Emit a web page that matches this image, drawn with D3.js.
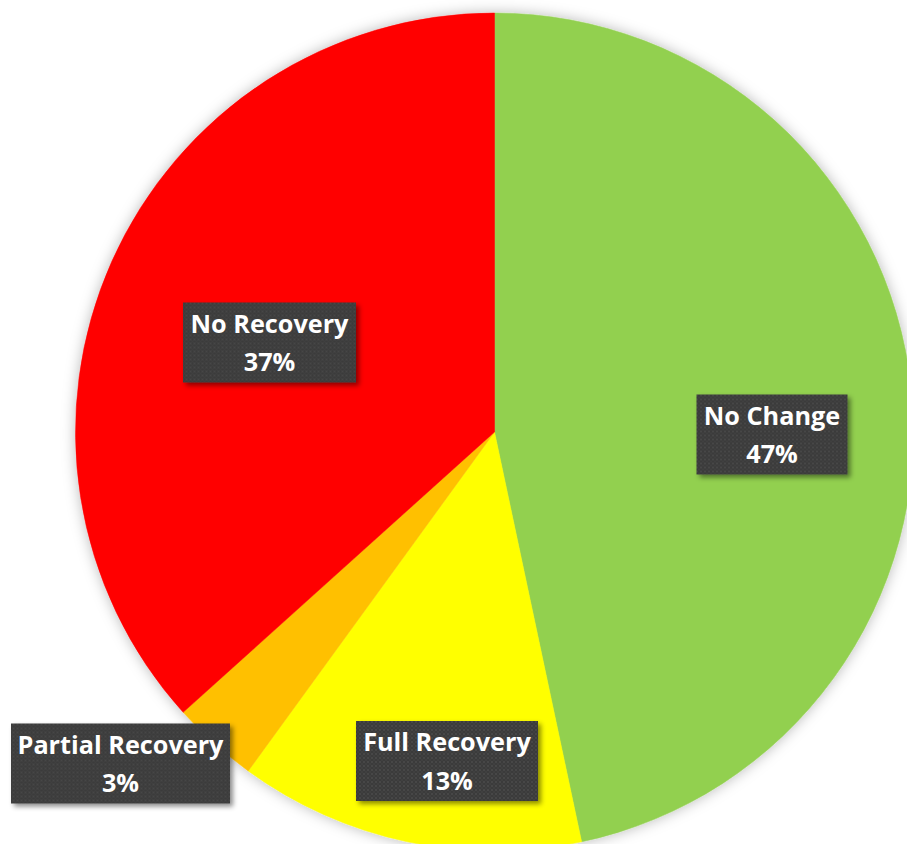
<!DOCTYPE html>
<html>
<head>
<meta charset="utf-8">
<script src="https://cdn.jsdelivr.net/npm/d3@7"></script>
<style>
  html, body { margin: 0; padding: 0; background: #ffffff; }
  svg { display: block; }
</style>
</head>
<body>
<svg id="chart" width="907" height="844"></svg>
<script>
// ---- data ----
const categories = ["No Change", "Full Recovery", "Partial Recovery", "No Recovery"];
const values = [14, 4, 1, 11];
const labels = ["47%", "13%", "3%", "37%"];
const colors = ["#92D050", "#FFFF00", "#FFC000", "#FF0000"];
// label box centres (layout)
const labelPos = [[772, 434.5], [447, 761], [120.5, 763.5], [269.5, 342.5]];
const labelBoxW = [151, 182, 219, 173];
const boxH = 80;

const svg = d3.select("#chart");
const cx = 494.5, cy = 432, R = 419;

const defs = svg.append("defs");
const pf = defs.append("filter").attr("id", "pieShadow")
  .attr("x", "-20%").attr("y", "-20%").attr("width", "140%").attr("height", "140%");
pf.append("feDropShadow").attr("dx", 0).attr("dy", 0).attr("stdDeviation", 7)
  .attr("flood-color", "#000").attr("flood-opacity", 0.28);

const bf = defs.append("filter").attr("id", "boxShadow")
  .attr("x", "-20%").attr("y", "-20%").attr("width", "140%").attr("height", "150%");
bf.append("feDropShadow").attr("dx", 3).attr("dy", 3).attr("stdDeviation", 2.5)
  .attr("flood-color", "#000").attr("flood-opacity", 0.45);

const pat = defs.append("pattern").attr("id", "dots")
  .attr("width", 4).attr("height", 4).attr("patternUnits", "userSpaceOnUse");
pat.append("rect").attr("width", 4).attr("height", 4).attr("fill", "#3a3a3a");
pat.append("circle").attr("cx", 1).attr("cy", 1).attr("r", 0.9).attr("fill", "#4b4b4b");
pat.append("circle").attr("cx", 3).attr("cy", 3).attr("r", 0.9).attr("fill", "#444444");

const data = categories.map((c, i) => ({ cat: c, value: values[i], label: labels[i], color: colors[i], i }));

const pie = d3.pie().value(d => d.value).sort(null).startAngle(0).endAngle(2 * Math.PI);
const arc = d3.arc().innerRadius(0).outerRadius(R);

const g = svg.append("g").attr("transform", `translate(${cx},${cy})`);
g.append("g").attr("filter", "url(#pieShadow)")
  .selectAll("path").data(pie(data)).join("path")
  .attr("d", arc)
  .attr("fill", d => d.data.color)
  .attr("stroke", d => d.data.color)
  .attr("stroke-width", 0.5);

const lg = svg.append("g");
const texts = [];
data.forEach((d, i) => {
  const [x, y] = labelPos[i];
  const w = labelBoxW[i];
  const grp = lg.append("g").attr("transform", `translate(${x},${y})`);
  grp.append("rect")
    .attr("x", -w / 2).attr("y", -boxH / 2)
    .attr("width", w).attr("height", boxH)
    .attr("fill", "url(#dots)")
    .attr("filter", "url(#boxShadow)");
  const t = grp.append("text")
    .attr("text-anchor", "middle")
    .attr("fill", "#ffffff")
    .attr("font-family", "'Open Sans', Lato, sans-serif")
    .attr("font-weight", 700)
    .attr("font-size", 24);
  t.append("tspan").attr("x", 0).attr("y", -10).text(d.cat);
  t.append("tspan").attr("x", 0).attr("y", 28.5).text(d.label);
  texts.push(t);
});
// fit font size so "No Recovery" spans ~158px like the reference
const ref = texts[3].select("tspan").node().getComputedTextLength();
const fs = 24 * 158 / ref;
texts.forEach(t => t.attr("font-size", fs));
</script>
</body>
</html>
